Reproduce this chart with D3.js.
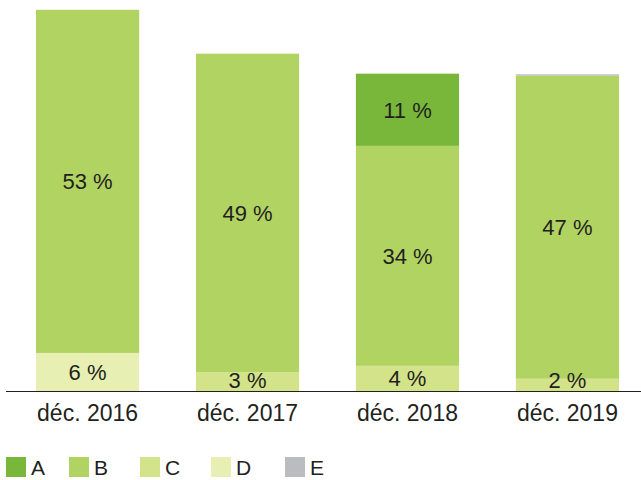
<!DOCTYPE html>
<html>
<head>
<meta charset="utf-8">
<script src="https://cdn.jsdelivr.net/npm/d3@7"></script>
<style>
  body { margin: 0; background: #fff; }
  text { font-family: "Liberation Sans", Arial, sans-serif; fill: #231f20; }
</style>
</head>
<body>
<div id="chart"></div>
<script>
// data (percent)
const periods = ["déc. 2016", "déc. 2017", "déc. 2018", "déc. 2019"];
const seriesKeys = ["C", "D", "B", "A", "E"]; // stacking order, bottom to top
const legendKeys = ["A", "B", "C", "D", "E"];
const valuesA = [0, 0, 11.2, 0];
const valuesB = [53.2, 49.4, 34.1, 47.0];
const valuesC = [0, 2.9, 3.9, 1.9];
const valuesD = [5.9, 0, 0, 0];
const valuesE = [0, 0, 0, 0.2];

const width = 641, height = 480;
const svg = d3.select("#chart").append("svg")
    .attr("width", width)
    .attr("height", height);

const color = d3.scaleOrdinal()
    .domain(["A", "B", "C", "D", "E"])
    .range(["#78b73a", "#b1d362", "#d3e38a", "#e7efb2", "#bbbcc0"]);

const rows = periods.map((p, i) => ({
    period: p, A: valuesA[i], B: valuesB[i], C: valuesC[i], D: valuesD[i], E: valuesE[i]
}));

const layers = d3.stack().keys(seriesKeys)(rows);

const x = d3.scaleBand()
    .domain(periods)
    .range([-4, 659])
    .paddingInner(0.355)
    .paddingOuter(0.25);

const y = d3.scaleLinear()
    .domain([0, 60])
    .range([391, 4]);

// bars
svg.append("g")
    .selectAll("g")
    .data(layers)
    .join("g")
    .attr("fill", d => color(d.key))
    .selectAll("rect")
    .data(d => d)
    .join("rect")
    .attr("x", d => x(d.data.period))
    .attr("y", d => y(d[1]))
    .attr("width", x.bandwidth())
    .attr("height", d => y(d[0]) - y(d[1]));

// value labels (skip tiny ones)
const labels = [];
layers.forEach(layer => {
    layer.forEach(d => {
        const v = d[1] - d[0];
        if (v >= 1) {
            const mid = (y(d[0]) + y(d[1])) / 2;
            labels.push({ period: d.data.period, v: v, yc: Math.min(mid, y(0) - 11) });
        }
    });
});

svg.append("g")
    .selectAll("text")
    .data(labels)
    .join("text")
    .attr("x", d => x(d.period) + x.bandwidth() / 2)
    .attr("y", d => d.yc)
    .attr("dy", "0.36em")
    .attr("text-anchor", "middle")
    .style("font-size", "22px")
    .text(d => Math.round(d.v) + " %");

// x axis
svg.append("line")
    .attr("x1", 6).attr("x2", width)
    .attr("y1", y(0) + 0.5).attr("y2", y(0) + 0.5)
    .attr("stroke", "#231f20")
    .attr("stroke-width", 1.2);

svg.append("g")
    .selectAll("text")
    .data(periods)
    .join("text")
    .attr("x", d => x(d) + x.bandwidth() / 2)
    .attr("y", 421)
    .attr("text-anchor", "middle")
    .style("font-size", "23px")
    .text(d => d);

// legend
const legendX = [6, 69, 140, 211, 285];
const legend = svg.append("g")
    .selectAll("g")
    .data(legendKeys)
    .join("g")
    .attr("transform", (d, i) => `translate(${legendX[i]}, 457)`);

legend.append("rect")
    .attr("width", 20)
    .attr("height", 20)
    .attr("fill", d => color(d));

legend.append("text")
    .attr("x", 25)
    .attr("y", 18)
    .style("font-size", "21px")
    .text(d => d);
</script>
</body>
</html>
